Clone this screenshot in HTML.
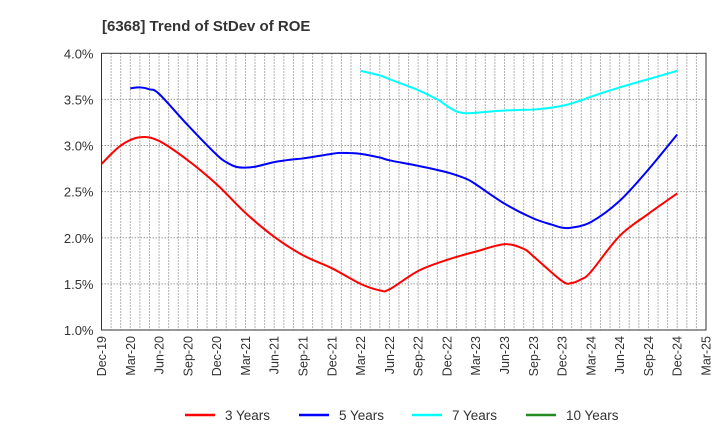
<!DOCTYPE html>
<html><head><meta charset="utf-8">
<style>
body{margin:0;background:#fff;}
svg{display:block;font-family:"Liberation Sans",sans-serif;}
</style></head>
<body>
<svg id="chart" width="720" height="440" viewBox="0 0 720 440">
<text x="102" y="31" font-size="15" font-weight="bold" fill="#333">[6368]  Trend of StDev of ROE</text>
</svg>
<script>
const xTickLabels=["Dec-19","Mar-20","Jun-20","Sep-20","Dec-20","Mar-21","Jun-21","Sep-21","Dec-21","Mar-22","Jun-22","Sep-22","Dec-22","Mar-23","Jun-23","Sep-23","Dec-23","Mar-24","Jun-24","Sep-24","Dec-24","Mar-25"];
const yTicks=[1.0,1.5,2.0,2.5,3.0,3.5,4.0];
const months3=[0,2,4,6,9,12,15,18,21,24,27,29,30,33,36,39,42,44,45,48,49,50,51,54,57,60];
const vals3=[2.80,3.00,3.09,3.05,2.84,2.58,2.27,2.01,1.81,1.67,1.50,1.43,1.44,1.64,1.76,1.85,1.93,1.88,1.80,1.53,1.51,1.55,1.63,2.02,2.26,2.48];
const months5=[3,4,5,6,9,12,13,14,15,16,18,20,21,24,25,27,29,30,33,36,38,39,42,45,47,48,49,51,54,57,60];
const vals5=[3.62,3.63,3.61,3.56,3.22,2.90,2.82,2.77,2.76,2.77,2.82,2.85,2.86,2.91,2.92,2.91,2.87,2.84,2.78,2.71,2.64,2.58,2.37,2.21,2.14,2.11,2.11,2.17,2.40,2.74,3.12];
const months7=[27,29,30,33,35,36,37,38,39,42,45,46,48,50,51,54,57,60];
const vals7=[3.81,3.76,3.72,3.60,3.50,3.43,3.37,3.35,3.355,3.38,3.39,3.40,3.43,3.49,3.53,3.63,3.72,3.81];
const legendNames=["3 Years","5 Years","7 Years","10 Years"];
const legendColors=["#ff0000","#0000ff","#00ffff","#228b22"];

const svg=document.getElementById('chart');
const NS="http://www.w3.org/2000/svg";
const L=101.5,R=706,T=53.3,B=330;
const xS=m=>L+(R-L)*m/63;
const yS=v=>B-(v-1)/3*(B-T);
function mk(tag,attrs,parent){const e=document.createElementNS(NS,tag);for(const k in attrs)e.setAttribute(k,attrs[k]);(parent||svg).appendChild(e);return e;}

const grid=mk('g',{});


for(let m=1;m<63;m++){
  const l=mk('line',{x1:xS(m),x2:xS(m),y1:T,y2:B,stroke:'#999','stroke-width':1,'stroke-dasharray':'1.5,1.5'},grid);
  
  
}
yTicks.forEach(v=>{
  if(v>1&&v<4){
    const l=mk('line',{x1:L,x2:R,y1:yS(v),y2:yS(v),stroke:'#999','stroke-width':1,'stroke-dasharray':'1.5,1.5'},grid);
    
    
  }
  const t=mk('text',{x:L-8,y:yS(v)+5,'text-anchor':'end','font-size':13,fill:'#333'});
  
  
  t.textContent=v.toFixed(1)+'%';
});
xTickLabels.forEach((s,i)=>{
  const x=xS(i*3);
  const t=mk('text',{transform:`translate(${x+4.5},${B+6}) rotate(-90)`,'text-anchor':'end','font-size':12.5,fill:'#333'});
  
  
  t.textContent=s;
});
const frame=mk('rect',{x:L,y:T,width:R-L,height:B-T,fill:'none',stroke:'#333','stroke-width':1});



function smooth(ms,vs){
  const p=ms.map((m,i)=>[xS(m),yS(vs[i])]);
  let d=`M${p[0][0]},${p[0][1]}`;
  for(let i=0;i<p.length-1;i++){
    const p0=p[i-1]||p[i],p1=p[i],p2=p[i+1],p3=p[i+2]||p2;
    const c1=[p1[0]+(p2[0]-p0[0])/6,p1[1]+(p2[1]-p0[1])/6];
    const c2=[p2[0]-(p3[0]-p1[0])/6,p2[1]-(p3[1]-p1[1])/6];
    d+=` C${c1[0]},${c1[1]} ${c2[0]},${c2[1]} ${p2[0]},${p2[1]}`;
  }
  return d;
}
const s3=mk('path',{d:smooth(months3,vals3),fill:'none',stroke:legendColors[0],'stroke-width':2,'stroke-linejoin':'round'});


const s5=mk('path',{d:smooth(months5,vals5),fill:'none',stroke:legendColors[1],'stroke-width':2,'stroke-linejoin':'round'});


const s7=mk('path',{d:smooth(months7,vals7),fill:'none',stroke:legendColors[2],'stroke-width':2,'stroke-linejoin':'round'});



const lx=[185,299,412,526];
const lg=mk('g',{});


legendNames.forEach((n,i)=>{
  const g=mk('g',{},lg);
  
  
  mk('line',{x1:lx[i],x2:lx[i]+30,y1:415,y2:415,stroke:legendColors[i],'stroke-width':2.5},g);
  const t=mk('text',{x:lx[i]+40,y:420,'font-size':13.5,fill:'#333'},g);
  t.textContent=n;
});
</script>
</body></html>
